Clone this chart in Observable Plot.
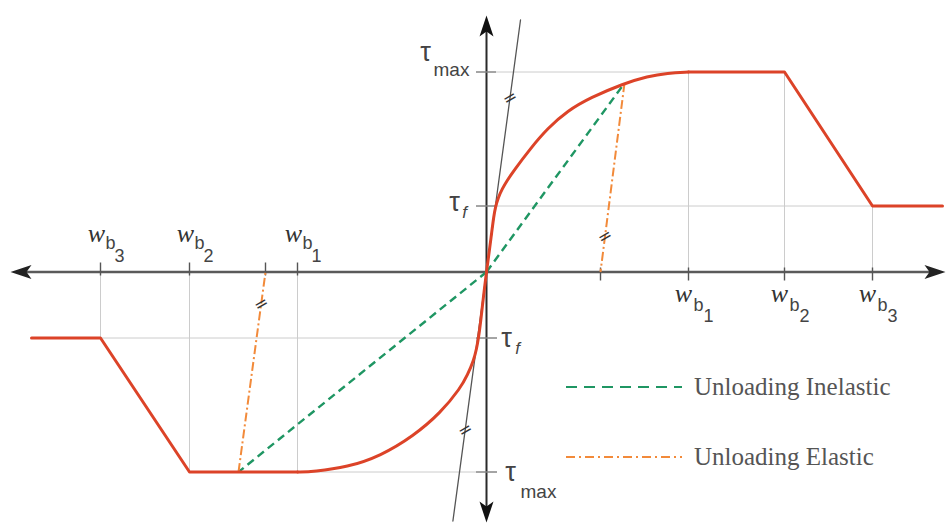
<!DOCTYPE html>
<html>
<head>
<meta charset="utf-8">
<script src="https://cdn.jsdelivr.net/npm/d3@7"></script>
<script src="https://cdn.jsdelivr.net/npm/@observablehq/plot@0.6"></script>
<style>
  html, body { margin: 0; padding: 0; background: #fff; }
  #wrap { position: relative; width: 952px; height: 528px; }
  #wrap svg { display: block; }
  #legend { position: absolute; left: 566px; top: 368px; font-family: "Liberation Serif", serif; font-size: 25px; color: #555; }
  #legend .item { display: flex; align-items: center; height: 38px; margin-bottom: 32px; }
  #legend svg { margin-right: 12px; }
</style>
</head>
<body>
<div id="wrap"><div id="legend"></div></div>
<script>
// Cyclic bond stress–slip law: ascending branch, plateau, softening to residual friction,
// plus the inelastic (secant) and elastic (initial-stiffness) unloading paths.

const tauMax = 1.0;   // peak bond stress
const tauF = 0.33;    // residual (frictional) bond stress

// characteristic slips w_b1, w_b2, w_b3 on each side
const wbPositive = [2.02, 2.98, 3.86];
const wbNegative = [-1.89, -2.97, -3.86];
const wbIndex = ["1", "2", "3"];
const wbStressPositive = [tauMax, tauMax, tauF];
const wbStressNegative = [-tauMax, -tauMax, -tauF];

// ascending branch, positive slip
const risingSlip   = [0, 0.033, 0.05, 0.073, 0.09, 0.117, 0.157, 0.207, 0.27, 0.44, 0.61, 0.81, 1.04, 1.37, 1.61, 1.81, 2.02];
const risingStress = [0, 0.124, 0.19, 0.28, 0.325, 0.372, 0.416, 0.458, 0.505, 0.618, 0.718, 0.806, 0.872, 0.942, 0.978, 0.995, 1.0];

// ascending branch, negative slip
const fallingSlip   = [-1.89, -1.73, -1.39, -1.06, -0.73, -0.46, -0.26, -0.19, -0.127, -0.1, -0.08, -0.06, -0.04, -0.02, 0];
const fallingStress = [-1.0, -0.998, -0.976, -0.92, -0.82, -0.705, -0.58, -0.515, -0.44, -0.385, -0.33, -0.255, -0.165, -0.08, 0];

// plateau, softening and residual branches
const outerSlipPositive   = [wbPositive[0], wbPositive[1], wbPositive[2], 4.56];
const outerStressPositive = [tauMax, tauMax, tauF, tauF];
const outerSlipNegative   = [-4.55, wbNegative[2], wbNegative[1], wbNegative[0]];
const outerStressNegative = [-tauF, -tauF, -tauMax, -tauMax];

// unloading start points and elastic residual slips
const unloadSlip = [1.38, -2.48];
const unloadStress = [0.944, -1.0];
const residualSlip = [1.14, -2.21];

// initial stiffness line
const tangentSlip = [-0.336, 0.34];
const tangentStress = [-1.245, 1.26];

// where the "parallel" hash marks sit (stress level along each line)
const tangentHashStress = [0.87, -0.79];
const elasticHashStress = [0.178, -0.16];

// axis extents
const slipAxis = [-4.76, 4.59];
const stressAxis = [-1.2525, 1.2825];

const legendLabels = ["Unloading Inelastic", "Unloading Elastic"];

const RED = "#dc4328", GREEN = "#1f9663", ORANGE = "#f28a3a", GRID = "#cccccc";

const zip = (xs, ys) => xs.map((x, i) => ({x, y: ys[i]}));

// stealth arrowheads, tip at the anchor point
const heads = {
  up:    [[0,0],[7,21],[0,16],[-7,21]],
  down:  [[0,0],[7,-21],[0,-16],[-7,-21]],
  left:  [[0,0],[21,7],[16,0],[21,-7]],
  right: [[0,0],[-21,7],[-16,0],[-21,-7]]
};
const head = dir => ({
  draw(ctx) {
    const p = heads[dir];
    ctx.moveTo(p[0][0], p[0][1]);
    for (let i = 1; i < p.length; ++i) ctx.lineTo(p[i][0], p[i][1]);
    ctx.closePath();
  }
});

const along = (a, b, y) => a.x + (b.x - a.x) * (y - a.y) / (b.y - a.y);
const tangentPts = zip(tangentSlip, tangentStress);
const unloadPts = zip(unloadSlip, unloadStress);
const hashRows = [
  ...tangentHashStress.map(y => ({x: along(tangentPts[0], tangentPts[1], y), y})),
  ...elasticHashStress.map((y, i) => ({x: along(unloadPts[i], {x: residualSlip[i], y: 0}, y), y}))
];

const note = (x, y, text, opts) =>
  Plot.text([0], {x: () => x, y: () => y, text: () => text, fill: "#444",
                  fontFamily: "Liberation Sans, Arial, sans-serif", ...opts});

const slipLabel = (values, text, opts) =>
  Plot.text(values, {x: d => d, y: 0, text, fill: "#444",
                     fontFamily: "Liberation Sans, Arial, sans-serif", ...opts});

const chart = Plot.plot({
  width: 952,
  height: 528,
  margin: 0,
  x: {domain: [-4.86, 4.66], axis: null},
  y: {domain: [-1.2825, 1.3575], axis: null},
  style: {background: "#fff", overflow: "visible"},
  marks: [
    // light reference lines
    Plot.ruleX(wbPositive, {x: d => d, y1: -0.04, y2: (d, i) => wbStressPositive[i], stroke: GRID}),
    Plot.ruleX(wbNegative, {x: d => d, y1: 0.04, y2: (d, i) => wbStressNegative[i], stroke: GRID}),
    Plot.ruleY([tauMax, tauF], {y: d => d, x1: -0.1, x2: (d, i) => wbPositive[i + 1], stroke: GRID}),
    Plot.ruleY([-tauF, -tauMax], {y: d => d, x1: 0.11, x2: (d, i) => wbNegative[2 - i], stroke: GRID}),

    // axes
    Plot.ruleY([0], {x1: slipAxis[0] + 0.1, x2: slipAxis[1] - 0.1, stroke: "#5a5a5a", strokeWidth: 2.5}),
    Plot.ruleX([0], {y1: stressAxis[0] + 0.05, y2: stressAxis[1] - 0.05, stroke: "#2a2a2a", strokeWidth: 2}),

    // tick marks on the axes
    Plot.ruleX([...wbPositive, residualSlip[0]], {x: d => d, y1: -0.045, y2: 0.02, stroke: "#555", strokeWidth: 1.4}),
    Plot.ruleX([...wbNegative, residualSlip[1]], {x: d => d, y1: -0.02, y2: 0.045, stroke: "#555", strokeWidth: 1.4}),
    Plot.ruleY([tauMax, tauF], {y: d => d, x1: -0.1, x2: 0.1, stroke: "#888", strokeWidth: 1.4}),
    Plot.ruleY([-tauF, -tauMax], {y: d => d, x1: -0.1, x2: 0.11, stroke: "#888", strokeWidth: 1.4}),

    // initial stiffness line
    Plot.line(tangentPts, {x: "x", y: "y", stroke: "#555", strokeWidth: 1.3}),

    // unloading paths
    Plot.link(unloadPts, {x1: 0, y1: 0, x2: "x", y2: "y", stroke: GREEN, strokeWidth: 2.4, strokeDasharray: "8,5"}),
    Plot.link(unloadPts, {x1: "x", y1: "y", x2: (d, i) => residualSlip[i], y2: 0, stroke: ORANGE, strokeWidth: 2, strokeDasharray: "9,3,2,3"}),

    // bond stress–slip envelope
    Plot.line(zip(risingSlip, risingStress), {x: "x", y: "y", stroke: RED, strokeWidth: 3, curve: "basis"}),
    Plot.line(zip(fallingSlip, fallingStress), {x: "x", y: "y", stroke: RED, strokeWidth: 3, curve: "basis"}),
    Plot.line(zip(outerSlipPositive, outerStressPositive), {x: "x", y: "y", stroke: RED, strokeWidth: 3}),
    Plot.line(zip(outerSlipNegative, outerStressNegative), {x: "x", y: "y", stroke: RED, strokeWidth: 3}),

    // parallel marks
    Plot.text(hashRows, {x: "x", y: "y", text: () => "=", rotate: -30, fontSize: 17,
                         fill: "#333", fontFamily: "DejaVu Sans, sans-serif"}),

    // stress labels
    note(0, tauMax, "τ", {dx: -61, dy: -20, fontSize: 27}),
    note(0, tauMax, "max", {dx: -35, dy: -2, fontSize: 19}),
    note(0, tauF, "τ", {dx: -32, dy: -4, fontSize: 27}),
    note(0, tauF, "f", {dx: -22, dy: 7, fontSize: 17, fontStyle: "italic"}),
    note(0, -tauF, "τ", {dx: 20, dy: 0, fontSize: 27}),
    note(0, -tauF, "f", {dx: 31, dy: 11, fontSize: 17, fontStyle: "italic"}),
    note(0, -tauMax, "τ", {dx: 24, dy: 0, fontSize: 27}),
    note(0, -tauMax, "max", {dx: 52, dy: 20, fontSize: 19}),

    // slip labels
    slipLabel(wbPositive, () => "w", {dx: -5, dy: 22, fontSize: 26, fontStyle: "italic",
                                      fontFamily: "Liberation Serif, serif", fill: "#333"}),
    slipLabel(wbPositive, () => "b", {dx: 10, dy: 33, fontSize: 18}),
    slipLabel(wbPositive, (d, i) => wbIndex[i], {dx: 20, dy: 44, fontSize: 18}),
    slipLabel(wbNegative, () => "w", {dx: -4, dy: -38, fontSize: 26, fontStyle: "italic",
                                      fontFamily: "Liberation Serif, serif", fill: "#333"}),
    slipLabel(wbNegative, () => "b", {dx: 10, dy: -29, fontSize: 18}),
    slipLabel(wbNegative, (d, i) => wbIndex[i], {dx: 19, dy: -16, fontSize: 18}),

    // arrowheads
    Plot.dot([0], {x: () => slipAxis[1], y: () => 0, symbol: head("right"), fill: "#222", stroke: "none", r: 5}),
    Plot.dot([0], {x: () => slipAxis[0], y: () => 0, symbol: head("left"), fill: "#222", stroke: "none", r: 5}),
    Plot.dot([0], {x: () => 0, y: () => stressAxis[1], symbol: head("up"), fill: "#111", stroke: "none", r: 5}),
    Plot.dot([0], {x: () => 0, y: () => stressAxis[0], symbol: head("down"), fill: "#111", stroke: "none", r: 5})
  ]
});

const wrap = document.getElementById("wrap");
wrap.insertBefore(chart, wrap.firstChild);

// legend with line swatches
const legend = d3.select("#legend");
const swatchStyles = [
  {stroke: GREEN, dash: "11,7", width: 2},
  {stroke: ORANGE, dash: "9,4,2,4", width: 2}
];
legendLabels.forEach((label, i) => {
  const item = legend.append("div").attr("class", "item");
  const svg = item.append("svg").attr("width", 116).attr("height", 8);
  svg.append("line").attr("x1", 0).attr("x2", 116).attr("y1", 4).attr("y2", 4)
    .attr("stroke", swatchStyles[i].stroke)
    .attr("stroke-width", swatchStyles[i].width)
    .attr("stroke-dasharray", swatchStyles[i].dash);
  item.append("span").text(label);
});
</script>
</body>
</html>
